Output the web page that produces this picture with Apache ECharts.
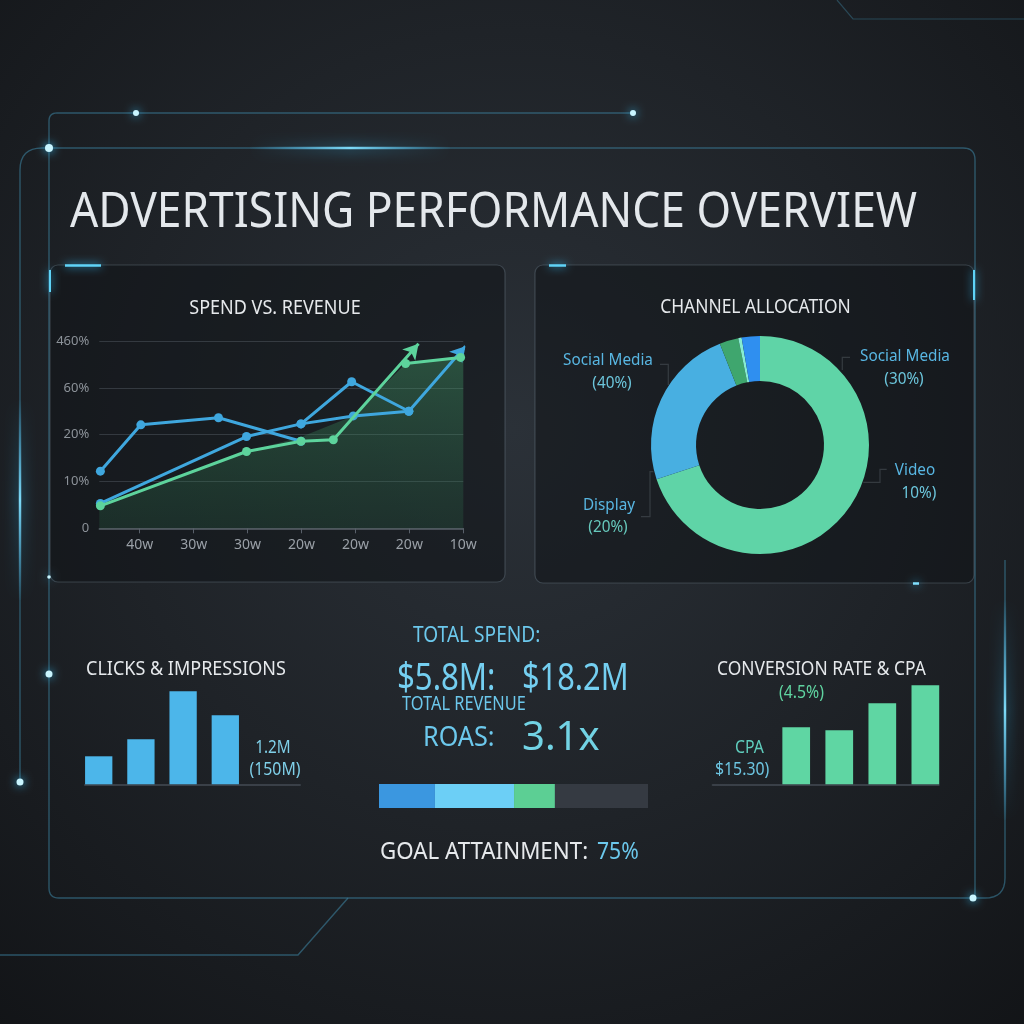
<!DOCTYPE html>
<html>
<head>
<meta charset="utf-8">
<script src="https://cdn.jsdelivr.net/npm/echarts@6/dist/echarts.min.js"></script>
<style>html,body{margin:0;padding:0;background:#16191d;}#c{width:1024px;height:1024px;}</style>
</head>
<body>
<div id="c"></div>
<script>
// ---------- data ----------
const xLabels = ['40w','30w','30w','20w','20w','20w','10w'];
const yLabels = ['0','10%','20%','60%','460%'];
const spendUpper  = [[-0.73,1.22],[0.02,2.21],[1.46,2.36],[2.99,1.86]];
const spendMain   = [[-0.73,0.53],[1.98,1.96],[2.99,2.23],[3.93,3.13],[4.99,2.50],[6.04,3.89]];
const spendBranch = [[2.99,2.23],[3.96,2.40],[4.99,2.50]];
const revenueMain = [[-0.73,0.48],[1.98,1.64],[2.99,1.86],[3.59,1.89],[5.17,3.94]];
const revenueTail = [[4.93,3.52],[5.95,3.65]];
const revenueArea = [[-0.75,0.48],[1.98,1.64],[2.99,1.95],[3.96,2.40],[4.93,3.52],[5.95,3.65],[6.0,3.65]];

const channelNames  = ['Video','Social Media','Search','Email','Display'];
const channelShares = [69.9, 24.1, 2.8, 0.5, 2.7];
const channelLabelNames = ['Social Media','Social Media','Video','Display'];
const channelLabelPcts  = ['(40%)','(30%)','10%)','(20%)'];

const clicksValues = [28, 45, 93, 69];
const clicksLabels = ['1.2M','(150M)'];
const conversionValues = [57, 54, 81, 99];
const conversionLabels = ['(4.5%)','CPA','$15.30)'];
const progressSegments = [20.8, 29.4, 15.2, 34.6];
const kpiSpend = '$5.8M:';
const kpiRevenue = '$18.2M';
const kpiRoas = '3.1x';
const kpiGoal = '75%';

// ---------- styling ----------
const F = '"Noto Sans", sans-serif';
const BLUE = '#3fa7de', GREEN = '#5dd39c';
const channelColors = ['#5fd4a7','#48afe1','#3fa66e','#86ecd0','#2f8ff0'];
const progressColors = ['#3b97e0','#6ccff6','#5ccf94','#353a42'];

function txt(x, y, text, size, color, align, sx, extra) {
  return { type:'text', x:x, y:y, scaleX:(sx==null?0.9:sx), z:10, silent:true,
    style: Object.assign({ text:text, font: size + 'px ' + F, fill:color,
      textAlign: align || 'left', textVerticalAlign:'middle' }, extra || {}) };
}
// convert simple "M x y L x y Q cx cy x y" strings into polyline points
function pts(d) {
  const t = d.trim().split(/\s+/);
  const out = []; let i = 0, cx = 0, cy = 0;
  while (i < t.length) {
    const c = t[i++];
    if (c === 'M' || c === 'L') { cx = +t[i++]; cy = +t[i++]; out.push([cx, cy]); }
    else if (c === 'Q') {
      const qx = +t[i++], qy = +t[i++], ex = +t[i++], ey = +t[i++];
      for (let k = 1; k <= 8; k++) {
        const s = k / 8, a = (1-s)*(1-s), b = 2*(1-s)*s, e = s*s;
        out.push([a*cx + b*qx + e*ex, a*cy + b*qy + e*ey]);
      }
      cx = ex; cy = ey;
    }
  }
  return out;
}
function path(d, stroke, w, extra) {
  return { type:'polyline', z:-5, silent:true, shape:{ points:pts(d) },
    style: Object.assign({ fill:null, stroke:stroke, lineWidth:w }, extra || {}) };
}
function dot(x, y, r) {
  return { type:'circle', z:5, silent:true, shape:{cx:x, cy:y, r:r},
    style:{ fill:'#c9f5ff', shadowBlur:10, shadowColor:'#35c6ff' } };
}
function glowLine(x1,y1,x2,y2,w) {
  const vertical = x1 === x2;
  return { type:'line', z:-4, silent:true, shape:{x1:x1,y1:y1,x2:x2,y2:y2},
    style:{ lineWidth:w, shadowBlur:14, shadowColor:'#33c4ff',
      stroke:{ type:'linear', x:0, y:0, x2: vertical?0:1, y2: vertical?1:0,
        colorStops:[{offset:0,color:'rgba(80,200,255,0)'},{offset:0.5,color:'rgba(130,225,255,0.95)'},{offset:1,color:'rgba(80,200,255,0)'}] } } };
}

const FRAME = 'rgba(62,135,165,0.55)';
const graphics = [
  { type:'rect', z:-10, silent:true, shape:{x:0,y:0,width:1024,height:1024},
    style:{ fill:{ type:'radial', x:0.5, y:0.42, r:0.78,
      colorStops:[{offset:0,color:'#2b3138'},{offset:0.5,color:'#1f2328'},{offset:1,color:'#121417'}] } } },
  path('M 20 782 L 20 170 Q 20 148 42 148 L 963 148 Q 975 148 975 160 L 975 898', FRAME, 1.4),
  path('M 633 113 L 57 113 Q 49 113 49 121 L 49 888 Q 49 898 59 898 L 985 898 Q 1005 898 1005 878 L 1005 560', FRAME, 1.4),
  path('M 348 898 L 298 955 L 0 955', FRAME, 1.4),
  path('M 837 0 L 853 19 L 1024 19', 'rgba(62,135,165,0.4)', 1.2),
  glowLine(20, 400, 20, 600, 2.5),
  glowLine(250, 148, 450, 148, 2.5),
  glowLine(1005, 600, 1005, 820, 2.5),
  // panels
  { type:'rect', z:-3, silent:true, shape:{x:50,y:265,width:455,height:317,r:8},
    style:{ fill:'rgba(17,20,24,0.55)', stroke:'rgba(110,125,140,0.38)', lineWidth:1.2 } },
  { type:'rect', z:-3, silent:true, shape:{x:535,y:265,width:439,height:318,r:8},
    style:{ fill:'rgba(17,20,24,0.55)', stroke:'rgba(110,125,140,0.38)', lineWidth:1.2 } },
  { type:'line', z:6, silent:true, shape:{x1:65,y1:265.5,x2:101,y2:265.5}, style:{stroke:'#5fd3f7',lineWidth:2.5,shadowBlur:8,shadowColor:'#33c4ff'} },
  { type:'line', z:6, silent:true, shape:{x1:549,y1:265.5,x2:566,y2:265.5}, style:{stroke:'#5fd3f7',lineWidth:2.5,shadowBlur:8,shadowColor:'#33c4ff'} },
  { type:'line', z:6, silent:true, shape:{x1:50,y1:270,x2:50,y2:292}, style:{stroke:'#5fd3f7',lineWidth:2,shadowBlur:8,shadowColor:'#33c4ff'} },
  { type:'line', z:6, silent:true, shape:{x1:974,y1:270,x2:974,y2:300}, style:{stroke:'#5fd3f7',lineWidth:2,shadowBlur:8,shadowColor:'#33c4ff'} },
  { type:'line', z:6, silent:true, shape:{x1:913,y1:583.5,x2:919,y2:583.5}, style:{stroke:'#7fe0ff',lineWidth:2.5,shadowBlur:8,shadowColor:'#33c4ff'} },
  dot(136,113,3), dot(633,113,3), dot(49,148,4), dot(20,782,3.5), dot(49,674,3.5), dot(973,898,3.5), dot(49,577,1.8),
  // donut connectors
  path('M 660 364.3 L 668.3 364.3 L 668.3 385', 'rgba(140,150,160,0.6)', 1.2),
  path('M 842.3 370 L 842.3 357.3 L 850 357.3', 'rgba(140,150,160,0.6)', 1.2),
  path('M 863.3 482.3 L 880 482.3 L 880 469.3 L 886.7 469.3', 'rgba(140,150,160,0.6)', 1.2),
  path('M 641 516.7 L 650 516.7 L 650 471.7 L 653.3 471.7', 'rgba(140,150,160,0.6)', 1.2),
  // titles
  txt(70, 213, 'ADVERTISING PERFORMANCE OVERVIEW', 49, '#e4e8ec', 'left', 0.905, {shadowBlur:6, shadowColor:'rgba(0,0,0,0.7)'}),
  txt(275, 308, 'SPEND VS. REVENUE', 20, '#e6e9ec', 'center', 0.9),
  txt(755.5, 307, 'CHANNEL ALLOCATION', 20, '#e6e9ec', 'center', 0.87),
  txt(86, 669, 'CLICKS & IMPRESSIONS', 20, '#e6e9ec', 'left', 0.9),
  txt(717, 669, 'CONVERSION RATE & CPA', 20, '#e6e9ec', 'left', 0.87),
  // donut labels
  txt(608, 360.3, channelLabelNames[0], 17, '#58b6e2', 'center', 0.9),
  txt(612, 383.3, channelLabelPcts[0], 17, '#6cc6dc', 'center', 0.9),
  txt(905, 356, channelLabelNames[1], 17, '#58b6e2', 'center', 0.9),
  txt(904, 379, channelLabelPcts[1], 17, '#6cc6dc', 'center', 0.9),
  txt(915, 470, channelLabelNames[2], 17, '#58b6e2', 'center', 0.9),
  txt(919, 493, channelLabelPcts[2], 17, '#6cc6dc', 'center', 0.9),
  txt(609, 505, channelLabelNames[3], 17, '#58b6e2', 'center', 0.9),
  txt(608, 526.7, channelLabelPcts[3], 17, '#66c8bc', 'center', 0.9),
  // bar labels
  txt(273, 748, clicksLabels[0], 18, '#7fcfe8', 'center', 0.85),
  txt(275, 770, clicksLabels[1], 18, '#7fcfe8', 'center', 0.88),
  txt(779, 693, conversionLabels[0], 18, '#5fd3a0', 'left', 0.88),
  txt(735, 748, conversionLabels[1], 18, '#5fcdbd', 'left', 0.88),
  txt(715, 770, conversionLabels[2], 18, '#6cc4e0', 'left', 0.88),
  // KPIs
  txt(413, 636, 'TOTAL SPEND:', 21, '#6cc8ec', 'left', 0.91),
  txt(397, 679, kpiSpend, 38, '#74cff1', 'left', 0.82, {shadowBlur:10, shadowColor:'rgba(90,190,240,0.55)'}),
  txt(522, 679, kpiRevenue, 38, '#74cff1', 'left', 0.81, {shadowBlur:10, shadowColor:'rgba(90,190,240,0.55)'}),
  txt(402, 705, 'TOTAL REVENUE', 19, '#6cc8ec', 'left', 0.86),
  txt(423, 738, 'ROAS:', 28, '#6cc8ec', 'left', 0.9, {shadowBlur:6, shadowColor:'rgba(90,190,240,0.4)'}),
  txt(522, 739, kpiRoas, 40, '#72d3e4', 'left', 1.0, {shadowBlur:10, shadowColor:'rgba(90,200,230,0.5)'}),
  txt(380, 852, 'GOAL ATTAINMENT:', 23, '#e6e9ec', 'left', 0.97),
  txt(597, 852, kpiGoal, 23, '#6cc8ec', 'left', 0.92)
];

function arrowEnd(data, rot) {
  return data.map((p, i) => i === data.length - 1
    ? { value:p, symbol:'arrow', symbolSize:[13,15], symbolRotate:rot }
    : { value:p });
}
function lineSeries(data, color, z) {
  return { type:'line', xAxisIndex:0, yAxisIndex:0, data:data, clip:false, z:z||3,
    symbol:'circle', symbolSize:9, showSymbol:true,
    lineStyle:{ color:color, width:3 }, itemStyle:{ color:color }, emphasis:{disabled:true} };
}

const option = {
  animation:false,
  backgroundColor:'transparent',
  textStyle:{ fontFamily:F },
  graphic:{ elements: graphics },
  grid:[
    { left:99.3, top:341, width:364, height:187.3 },
    { left:85, top:684.3, width:215, height:100 },
    { left:712.7, top:684.3, width:226, height:100 },
    { left:379, top:784, width:269, height:24 }
  ],
  xAxis:[
    { type:'value', gridIndex:0, min:-0.75, max:6,
      axisLine:{ lineStyle:{ color:'#59606a', width:1.5 } },
      axisTick:{ show:true, customValues:[0,1,2,3,4,5,6], length:5, lineStyle:{ color:'#59606a' } },
      axisLabel:{ customValues:[0,1,2,3,4,5,6], formatter:v => xLabels[Math.round(v)], color:'#9aa0a7', fontSize:14, margin:10, fontFamily:F },
      splitLine:{ show:false } },
    { type:'value', gridIndex:1, min:-0.325, max:4.77, axisLine:{ lineStyle:{ color:'#3a4048', width:2 } },
      axisTick:{show:false}, axisLabel:{show:false}, splitLine:{show:false} },
    { type:'value', gridIndex:2, min:-1.94, max:3.31, axisLine:{ lineStyle:{ color:'#3a4048', width:2 } },
      axisTick:{show:false}, axisLabel:{show:false}, splitLine:{show:false} },
    { type:'value', gridIndex:3, min:0, max:100, show:false }
  ],
  yAxis:[
    { type:'value', gridIndex:0, min:0, max:4, interval:1,
      axisLine:{show:false}, axisTick:{show:false},
      axisLabel:{ formatter:v => yLabels[v], color:'#8c9299', fontSize:13, margin:10, fontFamily:F },
      splitLine:{ lineStyle:{ color:'rgba(130,140,150,0.28)', width:1 } } },
    { type:'value', gridIndex:1, min:0, max:100, show:false },
    { type:'value', gridIndex:2, min:0, max:100, show:false },
    { type:'category', gridIndex:3, data:['goal'], show:false }
  ],
  series:[
    { type:'line', xAxisIndex:0, yAxisIndex:0, data:revenueArea, z:1, symbol:'none', clip:false,
      lineStyle:{ width:0, opacity:0 },
      areaStyle:{ color:{ type:'linear', x:0, y:0, x2:0, y2:1,
        colorStops:[{offset:0,color:'rgba(70,170,110,0.5)'},{offset:1,color:'rgba(45,120,80,0.3)'}] } } },
    lineSeries(spendUpper, BLUE, 3),
    lineSeries(spendBranch, BLUE, 3),
    lineSeries(arrowEnd(spendMain, -41), BLUE, 3),
    lineSeries(arrowEnd(revenueMain, -41), GREEN, 4),
    lineSeries(revenueTail, GREEN, 4),
    { type:'pie', center:[760,445], radius:[64,109], startAngle:90, clockwise:true,
      label:{show:false}, labelLine:{show:false}, emphasis:{disabled:true}, silent:true,
      data: channelNames.map((n,i) => ({ name:n, value:channelShares[i], itemStyle:{ color:channelColors[i] } })) },
    { type:'bar', xAxisIndex:1, yAxisIndex:1, barWidth:27.3, silent:true,
      itemStyle:{ color:'#4cb6ea' }, data: clicksValues.map((v,i)=>[i,v]) },
    { type:'bar', xAxisIndex:2, yAxisIndex:2, barWidth:27.7, silent:true,
      itemStyle:{ color:'#5fd6a3' }, data: conversionValues.map((v,i)=>[i,v]) }
  ].concat(progressSegments.map((v,i) => ({
      type:'bar', xAxisIndex:3, yAxisIndex:3, stack:'goal', barWidth:24, silent:true,
      itemStyle:{ color:progressColors[i] }, data:[v] })))
};

const chart = echarts.init(document.getElementById('c'), null, { renderer:'canvas', width:1024, height:1024 });
chart.setOption(option);
</script>
</body>
</html>
